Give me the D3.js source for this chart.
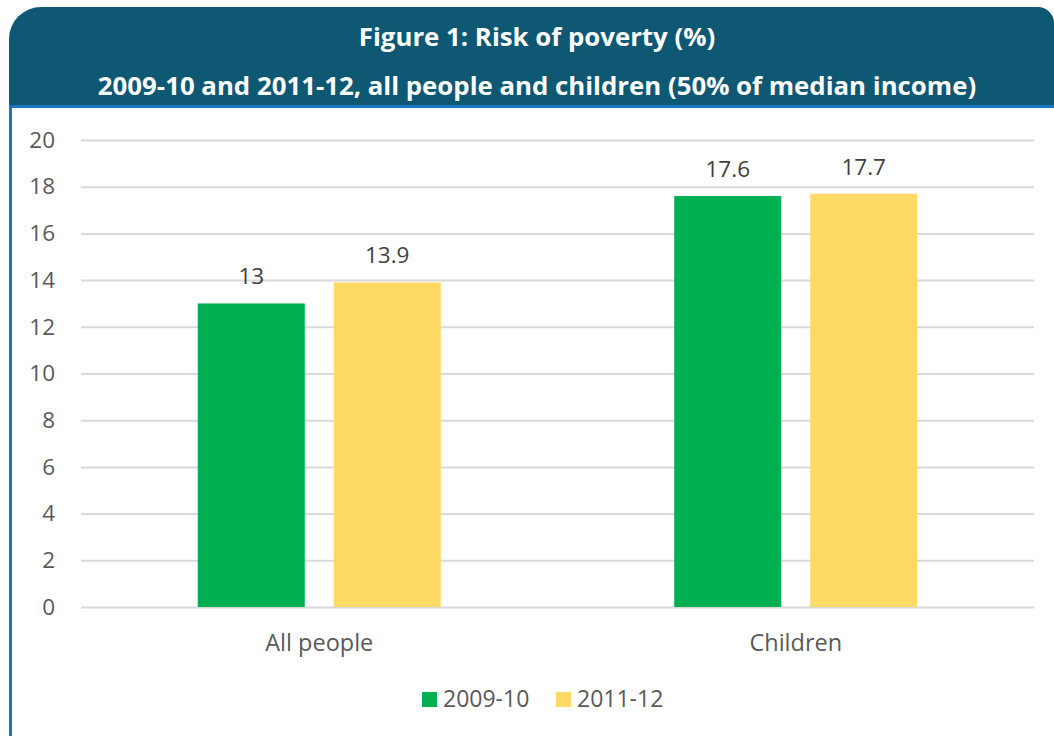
<!DOCTYPE html>
<html>
<head>
<meta charset="utf-8">
<script src="https://cdn.jsdelivr.net/npm/d3@7"></script>
<style>
  html, body { margin: 0; padding: 0; background: #ffffff; }
  svg { display: block; }
</style>
</head>
<body>
<svg id="chart" width="1054" height="736"></svg>
<script>
// Risk of poverty, 50% of median income
const categories = ["All people", "Children"];
const seriesNames = ["2009-10", "2011-12"];
const values2009 = [13, 17.6];
const values2011 = [13.9, 17.7];
const yTicks = [0, 2, 4, 6, 8, 10, 12, 14, 16, 18, 20];
const titleLines = [
  "Figure 1: Risk of poverty (%)",
  "2009-10 and 2011-12, all people and children (50% of median income)"
];

const colors = ["#00b050", "#ffd966"];
const seriesValues = [values2009, values2011];
const W = 1054, H = 736;
const font = "'Open Sans', 'DejaVu Sans', sans-serif";

const svg = d3.select("#chart");

// Panel frame: blue left rule and header underline
svg.append("rect").attr("x", 9).attr("y", 106).attr("width", W - 9).attr("height", H - 106).attr("fill", "#ffffff");
svg.append("rect").attr("x", 9).attr("y", 106).attr("width", 3).attr("height", H - 106).attr("fill", "#1b74c1");

// Header band with rounded top corners
const hx0 = 9, hy0 = 7, hx1 = W, hy1 = 106, rL = 32, rR = 16;
const hp = d3.path();
hp.moveTo(hx0, hy1);
hp.lineTo(hx0, hy0 + rL);
hp.arcTo(hx0, hy0, hx0 + rL, hy0, rL);
hp.lineTo(hx1 - rR, hy0);
hp.arcTo(hx1, hy0, hx1, hy0 + rR, rR);
hp.lineTo(hx1, hy1);
hp.closePath();
svg.append("path").attr("d", hp.toString()).attr("fill", "#0e5874");
svg.append("rect").attr("x", 9).attr("y", 105).attr("width", W - 9).attr("height", 3).attr("fill", "#1b74c1");

svg.selectAll("text.title")
  .data(titleLines)
  .join("text")
  .attr("class", "title")
  .attr("x", 537)
  .attr("y", (d, i) => 46 + i * 49)
  .attr("text-anchor", "middle")
  .attr("fill", "#ffffff")
  .attr("font-family", font)
  .attr("font-weight", "bold")
  .attr("font-size", 25.8)
  .text(d => d);

// Plot area
const plot = { left: 81, right: 1034, top: 140, bottom: 607 };

const y = d3.scaleLinear().domain([0, 20]).range([plot.bottom, plot.top]);
const x0 = d3.scaleBand().domain(categories).range([plot.left, plot.right]).paddingInner(0.49).paddingOuter(0.245);
const x1 = d3.scaleBand().domain(seriesNames).range([0, x0.bandwidth()]).paddingInner(0.213).paddingOuter(0);

// Horizontal gridlines
const yAxis = d3.axisLeft(y).tickValues(yTicks).tickSize(-(plot.right - plot.left)).tickPadding(26).tickFormat(d3.format("d"));
const gy = svg.append("g").attr("transform", `translate(${plot.left},0)`).call(yAxis);
gy.select(".domain").remove();
gy.selectAll(".tick line").attr("stroke", "#d9d9d9").attr("stroke-width", 2);
gy.selectAll(".tick text")
  .attr("fill", "#595959")
  .attr("font-family", font)
  .attr("font-size", 22.5);

// Bars
const groups = svg.append("g")
  .selectAll("g")
  .data(categories)
  .join("g")
  .attr("transform", d => `translate(${x0(d)},0)`);

const barData = (c, ci) => seriesNames.map((s, si) => ({ series: s, si, value: seriesValues[si][ci] }));

groups.selectAll("rect")
  .data((c, ci) => barData(c, ci))
  .join("rect")
  .attr("x", d => x1(d.series))
  .attr("y", d => y(d.value))
  .attr("width", x1.bandwidth())
  .attr("height", d => y(0) - y(d.value))
  .attr("fill", d => colors[d.si]);

groups.selectAll("text")
  .data((c, ci) => barData(c, ci))
  .join("text")
  .attr("x", d => x1(d.series) + x1.bandwidth() / 2)
  .attr("y", d => y(d.value) - 19)
  .attr("text-anchor", "middle")
  .attr("fill", "#404040")
  .attr("font-family", font)
  .attr("font-size", 22.5)
  .text(d => d.value);

// Category axis labels
const xAxis = d3.axisBottom(x0).tickSize(0).tickPadding(27);
const gx = svg.append("g").attr("transform", `translate(0,${plot.bottom})`).call(xAxis);
gx.select(".domain").remove();
gx.selectAll(".tick text")
  .attr("fill", "#595959")
  .attr("font-family", font)
  .attr("font-size", 23.5);

// Legend
const legendX = [422, 556];
const legend = svg.append("g")
  .selectAll("g")
  .data(seriesNames)
  .join("g")
  .attr("transform", (d, i) => `translate(${legendX[i]},692)`);
legend.append("rect").attr("width", 15).attr("height", 15).attr("fill", (d, i) => colors[i]);
legend.append("text")
  .attr("x", 21)
  .attr("y", 15)
  .attr("fill", "#595959")
  .attr("font-family", font)
  .attr("font-size", 23)
  .text(d => d);
</script>
</body>
</html>
